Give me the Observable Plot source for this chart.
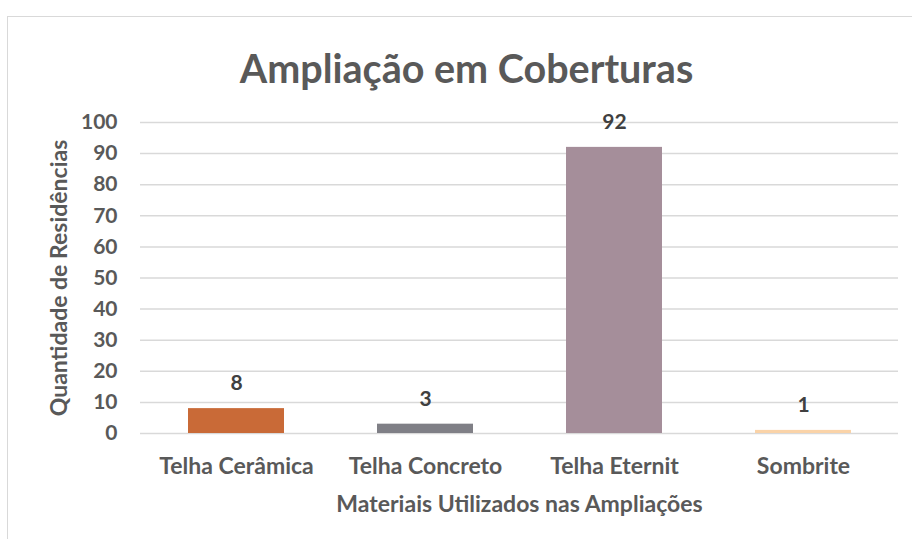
<!DOCTYPE html>
<html><head><meta charset="utf-8">
<script src="https://cdn.jsdelivr.net/npm/d3@7"></script>
<script src="https://cdn.jsdelivr.net/npm/@observablehq/plot@0.6"></script>
<style>
html,body{margin:0;padding:0;background:#fff;}
#wrap{position:relative;width:912px;height:539px;overflow:hidden;}
#frame{position:absolute;left:7px;top:16px;width:1000px;height:600px;border:1px solid #d9d9d9;box-sizing:border-box;}
#chart{position:absolute;left:0;top:0;}
</style></head>
<body><div id="wrap"><div id="frame"></div><div id="chart"></div></div>
<script>
const categories = ["Telha Cerâmica","Telha Concreto","Telha Eternit","Sombrite"];
const values = [8,3,92,1];
const colors = ["#C96A37","#7F7F86","#A58E9A","#FAD3A8"];
const yTicks = [0,10,20,30,40,50,60,70,80,90,100];
const data = categories.map((c,i)=>({cat:c,val:values[i],col:colors[i]}));
const font = "Lato, 'Open Sans', sans-serif";
const plot = Plot.plot({
  width: 912, height: 539,
  marginTop: 122, marginBottom: 106, marginLeft: 140, marginRight: 14,
  style: {fontFamily: font, background: "transparent", color: "#595959"},
  x: {domain: categories, paddingInner: 0.493, paddingOuter: 0.2467, label: null},
  y: {domain: [0,100], label: null},
  marks: [
    Plot.gridY(yTicks, {stroke: "#d9d9d9", strokeOpacity: 1, strokeWidth: 1.5}),
    Plot.barY(data, {x: "cat", y: "val", fill: "col"}),
    Plot.text(data, {x: "cat", y: "val", text: d => String(d.val), dy: -25, fontSize: 21, fontWeight: "bold", fill: "#404040"}),
    Plot.axisY({ticks: yTicks, tickSize: 0, tickPadding: 23, fontSize: 21, fontWeight: "bold", fill: "#595959",
      label: "Quantidade de Residências", labelAnchor: "center", labelArrow: "none", labelOffset: 90}),
    Plot.axisX({tickSize: 0, tickPadding: 24, fontSize: 23, fontWeight: "bold", fill: "#595959",
      label: "Materiais Utilizados nas Ampliações", labelAnchor: "center", labelArrow: "none", labelOffset: 78}),
    Plot.text(["Ampliação em Coberturas"], {frameAnchor: "top", dx: -53, dy: -68, fontSize: 39.5, fontWeight: "bold", fill: "#595959"})
  ]
});
plot.querySelectorAll('g[aria-label="y-axis label"] text, g[aria-label="x-axis label"] text').forEach(t=>{t.style.fontSize="23px";t.style.fontWeight="bold";t.setAttribute("fill","#595959");});
document.getElementById("chart").appendChild(plot);
</script></body></html>
